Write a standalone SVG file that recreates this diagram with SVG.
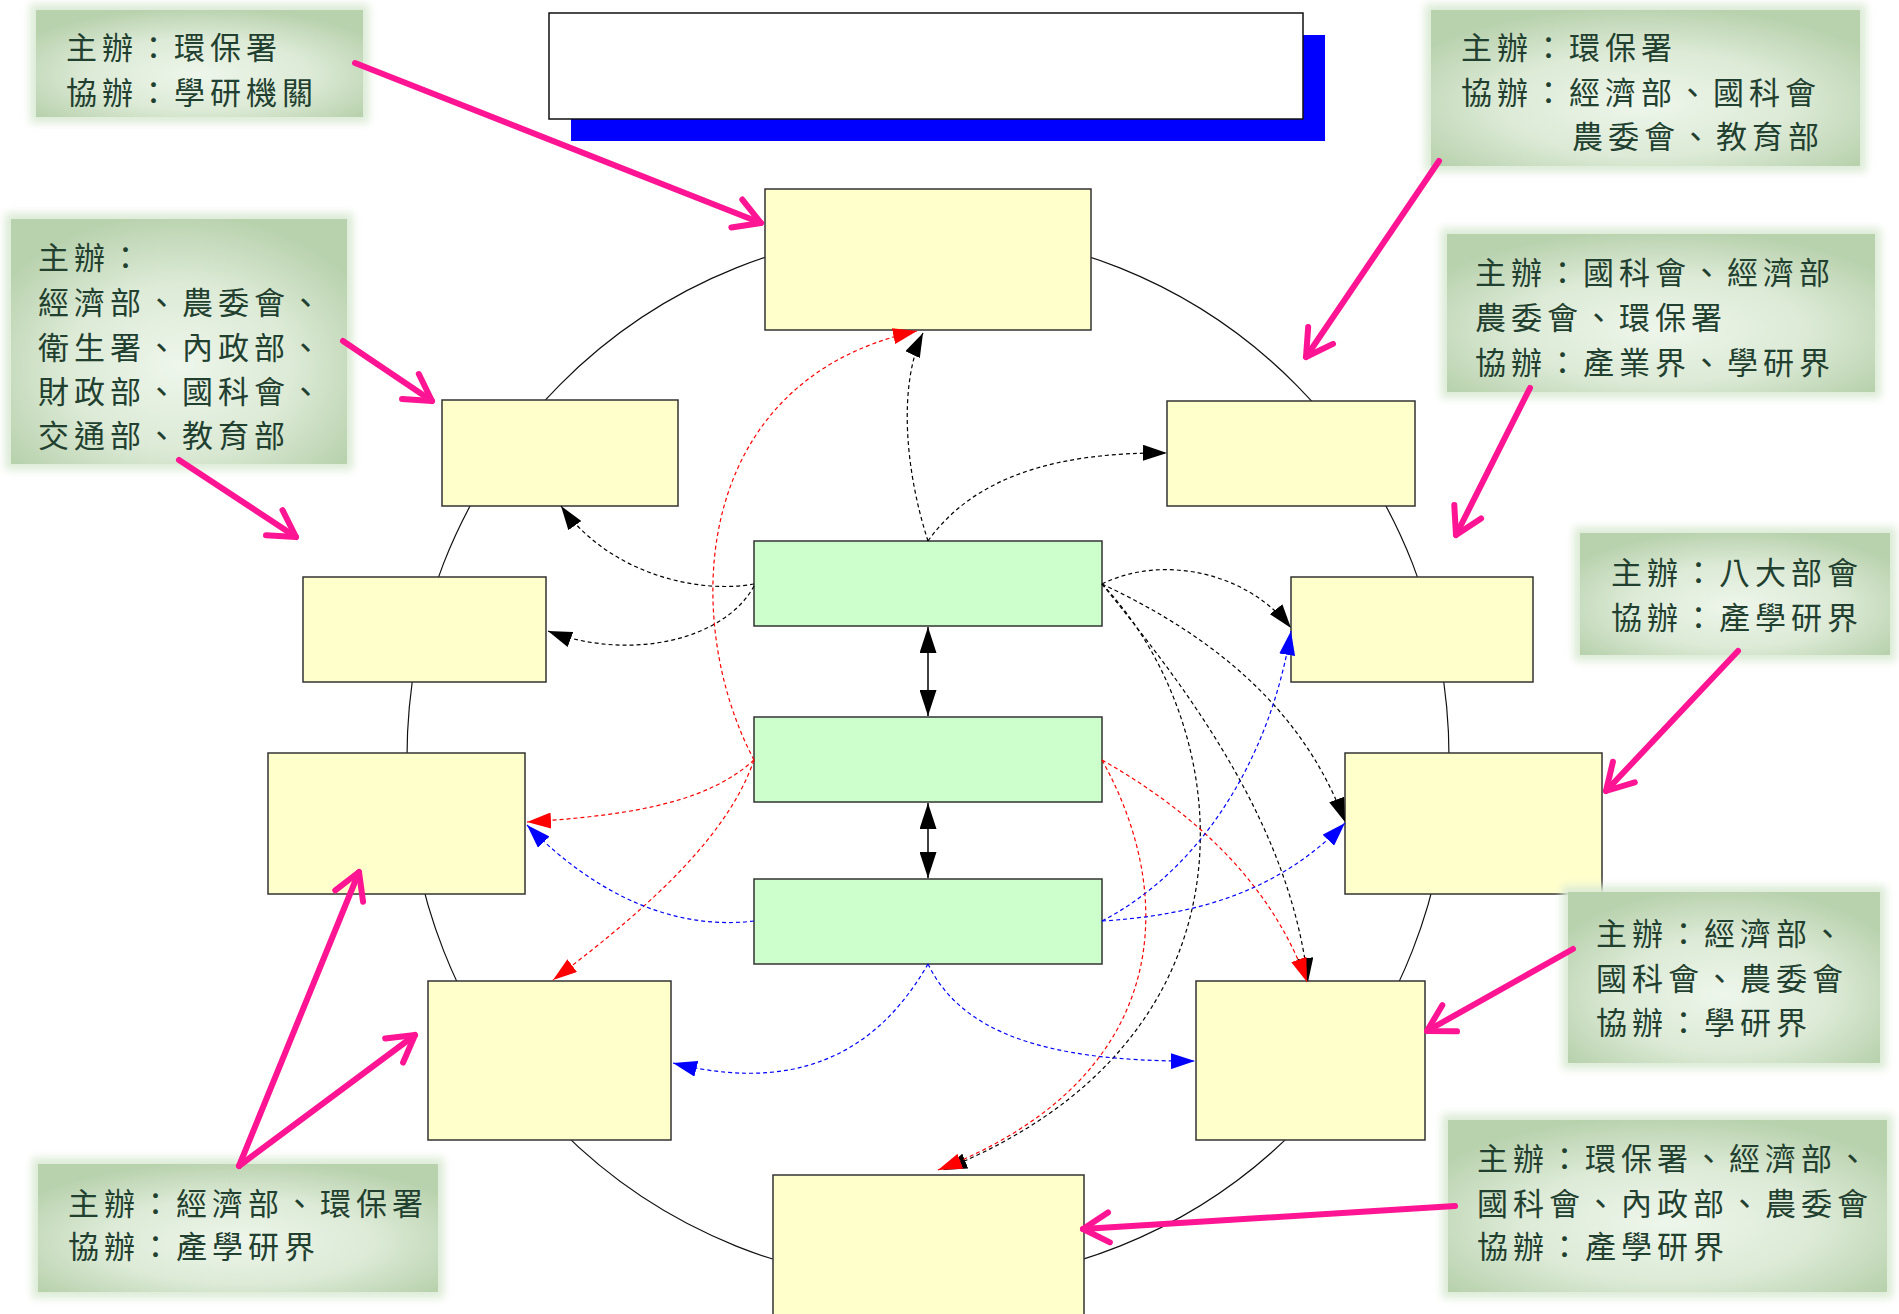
<svg xmlns="http://www.w3.org/2000/svg" width="1899" height="1314" viewBox="0 0 1899 1314">
  <defs>
    <style>
      .ny { fill:#FFFFCC; stroke:#333; stroke-width:1.5; }
      .ng { fill:#CCFFCC; stroke:#333; stroke-width:1.5; }
      .ring { fill:none; stroke:#111; stroke-width:1.2; }
      .glow { fill:#DCEBD6; filter:url(#soft); }
      .box { fill:url(#lblGrad); }
      .lbl text { font-family:"Noto Sans CJK TC","Noto Sans CJK SC",sans-serif; font-size:31px; fill:#22402F; letter-spacing:5px; }
      .dash { fill:none; stroke-width:1.2; stroke-dasharray:4 3; }
      .k { stroke:#000; marker-end:url(#ahK); }
      .r { stroke:#FF0000; marker-end:url(#ahR); }
      .b { stroke:#0000FF; marker-end:url(#ahB); }
      .dbl { fill:none; stroke:#000; stroke-width:1.5; marker-start:url(#ahS); marker-end:url(#ahS); }
      .ptr { fill:none; stroke:#FF1493; stroke-width:6; stroke-linecap:round; marker-end:url(#vPink); }
    </style>
    <radialGradient id="lblGrad" cx="0.5" cy="0.6" r="0.62">
      <stop offset="0" stop-color="#EEF6EB"/>
      <stop offset="0.55" stop-color="#DCEAD6"/>
      <stop offset="1" stop-color="#B9D2AE"/>
    </radialGradient>
    <filter id="soft" x="-10%" y="-10%" width="120%" height="120%">
      <feGaussianBlur stdDeviation="4"/>
    </filter>
    <marker id="ahK" viewBox="0 0 24 16" refX="24" refY="8" markerWidth="24" markerHeight="16" markerUnits="userSpaceOnUse" orient="auto">
      <path d="M0,0 L24,8 L0,16 z" fill="#000"/>
    </marker>
    <marker id="ahR" viewBox="0 0 24 16" refX="24" refY="8" markerWidth="24" markerHeight="16" markerUnits="userSpaceOnUse" orient="auto">
      <path d="M0,0 L24,8 L0,16 z" fill="#FF0000"/>
    </marker>
    <marker id="ahB" viewBox="0 0 24 16" refX="24" refY="8" markerWidth="24" markerHeight="16" markerUnits="userSpaceOnUse" orient="auto">
      <path d="M0,0 L24,8 L0,16 z" fill="#0000FF"/>
    </marker>
    <marker id="ahS" viewBox="0 0 26 17" refX="26" refY="8.5" markerWidth="26" markerHeight="17" markerUnits="userSpaceOnUse" orient="auto-start-reverse">
      <path d="M0,0 L26,8.5 L0,17 z" fill="#000"/>
    </marker>
    <marker id="vPink" viewBox="-34 -20 40 40" refX="0" refY="0" markerWidth="40" markerHeight="40" markerUnits="userSpaceOnUse" orient="auto" overflow="visible">
      <path d="M-26,-15 L0,0 L-26,15" fill="none" stroke="#FF1493" stroke-width="6" stroke-linecap="round" stroke-linejoin="round"/>
    </marker>
  </defs>

  <!-- title banner with offset shadow -->
  <g id="title">
    <rect x="571" y="35" width="754" height="106" fill="#0000FF"/>
    <rect x="549" y="13" width="754" height="106" fill="#FFFFFF" stroke="#111" stroke-width="1.5"/>
  </g>

  <!-- ring linking the outer stages -->
  <ellipse class="ring" cx="928" cy="757" rx="521" ry="526"/>

  <!-- outer stages -->
  <g id="n-top"><rect class="ny" x="765" y="189" width="326" height="141"/></g>
  <g id="n-l1"><rect class="ny" x="442" y="400" width="236" height="106"/></g>
  <g id="n-l2"><rect class="ny" x="303" y="577" width="243" height="105"/></g>
  <g id="n-l3"><rect class="ny" x="268" y="753" width="257" height="141"/></g>
  <g id="n-l4"><rect class="ny" x="428" y="981" width="243" height="159"/></g>
  <g id="n-bottom"><rect class="ny" x="773" y="1175" width="311" height="145"/></g>
  <g id="n-r1"><rect class="ny" x="1167" y="401" width="248" height="105"/></g>
  <g id="n-r2"><rect class="ny" x="1291" y="577" width="242" height="105"/></g>
  <g id="n-r3"><rect class="ny" x="1345" y="753" width="257" height="141"/></g>
  <g id="n-r4"><rect class="ny" x="1196" y="981" width="229" height="159"/></g>

  <!-- central stack -->
  <g id="n-c1"><rect class="ng" x="754" y="541" width="348" height="85"/></g>
  <g id="n-c2"><rect class="ng" x="754" y="717" width="348" height="85"/></g>
  <g id="n-c3"><rect class="ng" x="754" y="879" width="348" height="85"/></g>

  <!-- connectors -->
  <g id="connectors">
    <path class="dbl" d="M928,627 L928,716"/>
    <path class="dbl" d="M928,803 L928,878"/>

    <path class="dash k" d="M928,541 C905,470 898,385 923,333"/>
    <path class="dash k" d="M928,541 C975,475 1060,452 1167,453"/>
    <path class="dash k" d="M754,584 C700,594 610,575 561,506"/>
    <path class="dash k" d="M754,586 C725,640 630,662 548,631"/>
    <path class="dash k" d="M1102,584 C1160,555 1245,570 1291,628"/>
    <path class="dash k" d="M1102,584 C1200,630 1300,700 1345,822"/>
    <path class="dash k" d="M1102,584 C1180,680 1290,820 1308,982"/>
    <path class="dash k" d="M1102,584 C1240,730 1270,1040 943,1170"/>

    <path class="dash r" d="M754,760 C680,620 690,380 917,331"/>
    <path class="dash r" d="M754,760 C710,800 640,815 527,822"/>
    <path class="dash r" d="M754,760 C730,830 660,900 553,980"/>
    <path class="dash r" d="M1102,760 C1190,810 1270,880 1307,982"/>
    <path class="dash r" d="M1102,760 C1180,900 1170,1080 938,1170"/>

    <path class="dash b" d="M754,921 C680,930 600,900 527,825"/>
    <path class="dash b" d="M928,964 C890,1030 820,1100 673,1063"/>
    <path class="dash b" d="M928,964 C960,1030 1040,1062 1195,1061"/>
    <path class="dash b" d="M1102,921 C1200,870 1270,760 1291,631"/>
    <path class="dash b" d="M1102,921 C1200,915 1280,890 1345,823"/>
  </g>

  <!-- sponsor notes -->
  <g id="note-1" class="lbl">
    <rect class="glow" x="30" y="4" width="339" height="119"/>
    <rect class="box" x="36" y="10" width="327" height="107"/>
    <text x="66" y="59">主辦：環保署</text>
    <text x="66" y="104">協辦：學研機關</text>
  </g>
  <g id="note-2" class="lbl">
    <rect class="glow" x="5" y="213" width="348" height="257"/>
    <rect class="box" x="11" y="219" width="336" height="245"/>
    <text x="38" y="269">主辦：</text>
    <text x="38" y="314">經濟部、農委會、</text>
    <text x="38" y="359">衛生署、內政部、</text>
    <text x="38" y="403">財政部、國科會、</text>
    <text x="38" y="447">交通部、教育部</text>
  </g>
  <g id="note-3" class="lbl">
    <rect class="glow" x="1425" y="4" width="441" height="168"/>
    <rect class="box" x="1431" y="10" width="429" height="156"/>
    <text x="1461" y="59">主辦：環保署</text>
    <text x="1461" y="104">協辦：經濟部、國科會</text>
    <text x="1572" y="148">農委會、教育部</text>
  </g>
  <g id="note-4" class="lbl">
    <rect class="glow" x="1441" y="228" width="440" height="170"/>
    <rect class="box" x="1447" y="234" width="428" height="158"/>
    <text x="1475" y="284">主辦：國科會、經濟部</text>
    <text x="1475" y="329">農委會、環保署</text>
    <text x="1475" y="374">協辦：產業界、學研界</text>
  </g>
  <g id="note-5" class="lbl">
    <rect class="glow" x="1574" y="527" width="322" height="134"/>
    <rect class="box" x="1580" y="533" width="310" height="122"/>
    <text x="1611" y="584">主辦：八大部會</text>
    <text x="1611" y="629">協辦：產學研界</text>
  </g>
  <g id="note-6" class="lbl">
    <rect class="glow" x="1562" y="886" width="324" height="183"/>
    <rect class="box" x="1568" y="892" width="312" height="171"/>
    <text x="1596" y="945">主辦：經濟部、</text>
    <text x="1596" y="990">國科會、農委會</text>
    <text x="1596" y="1034">協辦：學研界</text>
  </g>
  <g id="note-7" class="lbl">
    <rect class="glow" x="32" y="1158" width="412" height="140"/>
    <rect class="box" x="38" y="1164" width="400" height="128"/>
    <text x="68" y="1215">主辦：經濟部、環保署</text>
    <text x="68" y="1258">協辦：產學研界</text>
  </g>
  <g id="note-8" class="lbl">
    <rect class="glow" x="1442" y="1114" width="451" height="184"/>
    <rect class="box" x="1448" y="1120" width="439" height="172"/>
    <text x="1477" y="1170">主辦：環保署、經濟部、</text>
    <text x="1477" y="1215">國科會、內政部、農委會</text>
    <text x="1477" y="1258">協辦：產學研界</text>
  </g>

  <!-- pointers from notes to stages -->
  <g id="pointers">
    <path class="ptr" d="M355,63 L761,223"/>
    <path class="ptr" d="M1439,161 L1306,357"/>
    <path class="ptr" d="M343,341 L432,401"/>
    <path class="ptr" d="M179,460 L296,537"/>
    <path class="ptr" d="M1530,388 L1456,535"/>
    <path class="ptr" d="M1738,651 L1606,791"/>
    <path class="ptr" d="M1573,949 L1427,1031"/>
    <path class="ptr" d="M1455,1206 L1083,1229"/>
    <path class="ptr" d="M239,1166 L359,872"/>
    <path class="ptr" d="M239,1166 L415,1035"/>
  </g>
</svg>
